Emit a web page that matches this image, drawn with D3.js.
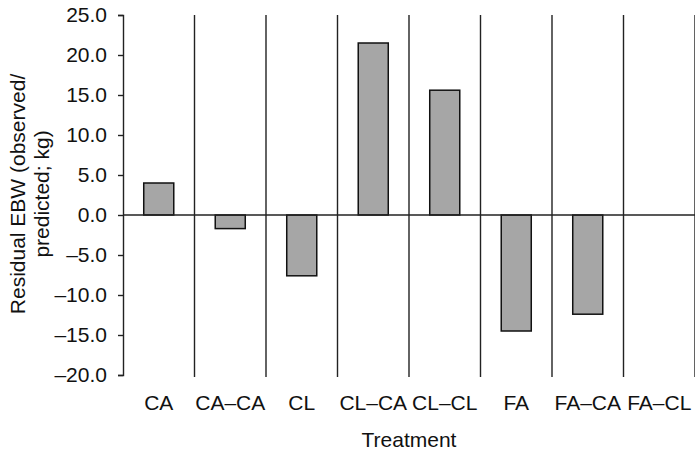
<!DOCTYPE html>
<html>
<head>
<meta charset="utf-8">
<script src="https://cdn.jsdelivr.net/npm/d3@7"></script>
<style>
  html, body { margin: 0; padding: 0; background: #fff; }
  svg text { font-family: "Liberation Sans", Arial, Helvetica, sans-serif; fill: #111; }
</style>
</head>
<body>
<svg id="chart" width="695" height="452"></svg>
<script>
const categories = ["CA", "CA\u2013CA", "CL", "CL\u2013CA", "CL\u2013CL", "FA", "FA\u2013CA", "FA\u2013CL"];
const residuals = [4.0, -1.7, -7.6, 21.5, 15.6, -14.5, -12.4, null];
const yTicks = [25, 20, 15, 10, 5, 0, -5, -10, -15, -20];
const yTitleLines = ["Residual EBW (observed/", "predicted; kg)"];
const xTitle = "Treatment";

(function () {
const svg = d3.select("#chart");
const mLeft = 123, mRight = 695, mTop = 15, mBottom = 375;
const fs = 21;

const x = d3.scaleBand().domain(categories).range([mLeft, mRight]).paddingInner(0).paddingOuter(0);
const xBar = d3.scaleBand().domain(categories).range([mLeft, mRight]).paddingInner(0.58).paddingOuter(0.29);
const y = d3.scaleLinear().domain([-20, 25]).range([mBottom, mTop]);

const fmt = v => (v < 0 ? "\u2013" : "") + Math.abs(v).toFixed(1);

// Category separators (extend slightly below the plot as tick marks)
svg.append("g").selectAll("line").data(categories).join("line")
  .attr("x1", d => x(d) + x.bandwidth()).attr("x2", d => x(d) + x.bandwidth())
  .attr("y1", mTop).attr("y2", mBottom + 2)
  .attr("stroke", "#222").attr("stroke-width", 1.4);

// Bars
svg.append("g").selectAll("rect").data(categories.map((c, i) => ({c, v: residuals[i]})).filter(d => d.v !== null))
  .join("rect")
  .attr("x", d => xBar(d.c))
  .attr("width", xBar.bandwidth())
  .attr("y", d => y(Math.max(0, d.v)))
  .attr("height", d => Math.abs(y(d.v) - y(0)))
  .attr("fill", "#a6a6a6").attr("stroke", "#111").attr("stroke-width", 1.5);

// Zero line
svg.append("line").attr("x1", mLeft).attr("x2", mRight).attr("y1", y(0)).attr("y2", y(0))
  .attr("stroke", "#222").attr("stroke-width", 1.4);

// Y axis
const yAxis = d3.axisLeft(y).tickValues(yTicks).tickFormat(fmt).tickSize(5).tickPadding(11);
const gy = svg.append("g").attr("transform", `translate(${mLeft},0)`).call(yAxis);
gy.select(".domain").attr("stroke", "#222").attr("stroke-width", 1.4);
gy.selectAll(".tick line").attr("stroke", "#222").attr("stroke-width", 1.4);
gy.selectAll(".tick text").attr("font-size", fs).attr("font-family", null).attr("fill", "#111");

// X category labels
svg.append("g").selectAll("text").data(categories).join("text")
  .attr("x", d => x(d) + x.bandwidth() / 2)
  .attr("y", 410)
  .attr("text-anchor", "middle")
  .attr("font-size", fs)
  .text(d => d);

// X title
svg.append("text").attr("x", 409).attr("y", 447).attr("text-anchor", "middle")
  .attr("font-size", fs).text(xTitle);

// Y title
const yt = svg.append("text").attr("transform", "translate(0,194) rotate(-90)")
  .attr("text-anchor", "middle").attr("font-size", fs);
yt.append("tspan").attr("x", 0).attr("y", 25).text(yTitleLines[0]);
yt.append("tspan").attr("x", 0).attr("y", 49).text(yTitleLines[1]);
})();
</script>
</body>
</html>
